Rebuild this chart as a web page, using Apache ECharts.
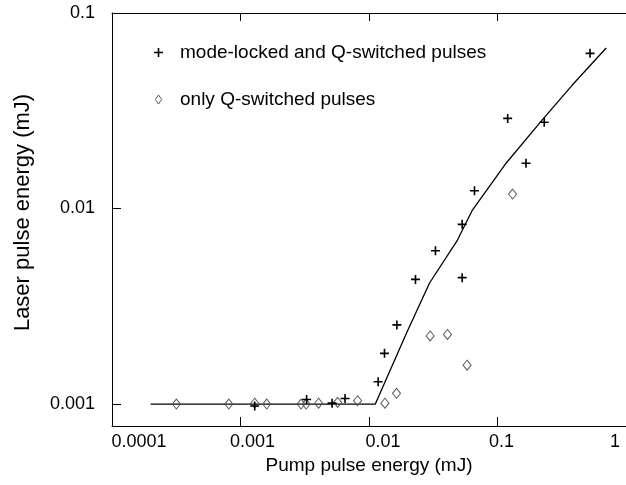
<!DOCTYPE html>
<html>
<head>
<meta charset="utf-8">
<script src="https://cdn.jsdelivr.net/npm/echarts@6/dist/echarts.min.js"></script>
<style>
html,body{margin:0;padding:0;background:#fff;}
#c{width:626px;height:485px;}
</style>
</head>
<body>
<div id="c"></div>
<script>
// Data
var lineX = [0.0002, 0.0112, 0.0196, 0.0296, 0.0488, 0.0638, 0.117, 0.223, 0.382, 0.701];
var lineY = [0.001, 0.001, 0.00231, 0.00416, 0.0069, 0.00982, 0.0171, 0.0284, 0.0428, 0.0662];

var plusX = [0.00129, 0.00327, 0.00516, 0.00651, 0.01178, 0.0132, 0.01648, 0.023, 0.0329, 0.0531, 0.0531, 0.0662, 0.12, 0.1667, 0.231, 0.525];
var plusY = [0.000977, 0.001054, 0.00101, 0.001067, 0.0013, 0.001817, 0.00254, 0.00434, 0.00608, 0.00443, 0.0083, 0.01233, 0.0289, 0.01703, 0.0276, 0.0622];

var diamondX = [0.000317, 0.000811, 0.00129, 0.0016, 0.00296, 0.00324, 0.00405, 0.0057, 0.00815, 0.0133, 0.01637, 0.0299, 0.0408, 0.058, 0.131];
var diamondY = [0.001, 0.001, 0.00101, 0.001, 0.001, 0.001, 0.00101, 0.00102, 0.00104, 0.00101, 0.001135, 0.00223, 0.00227, 0.00158, 0.01186];

var xTickLabels = ['0.0001', '0.001', '0.01', '0.1', '1'];
var yTickLabels = ['0.001', '0.01', '0.1'];
var legendNames = ['mode-locked and Q-switched pulses', 'only Q-switched pulses'];
var xTitle = 'Pump pulse energy (mJ)';
var yTitle = 'Laser pulse energy (mJ)';

function zip(a, b) { return a.map(function (v, i) { return [v, b[i]]; }); }

var FONT = 'Liberation Sans';
var PLUS = 'path://M4.1,0H5.9V4.1H10V5.9H5.9V10H4.1V5.9H0V4.1H4.1Z';
var DIAMOND = 'path://M3.5,0L7,5L3.5,10L0,5Z';

function powIndex(v, base) {
  var l = Math.log10(v);
  var e = Math.round(l);
  if (Math.abs(l - e) > 0.01) return -1;
  return e - base;
}

var chart = echarts.init(document.getElementById('c'), null, {renderer: 'canvas'});
chart.setOption({
  animation: false,
  backgroundColor: '#fff',
  textStyle: {fontFamily: FONT, color: '#000'},
  grid: {left: 112, top: 13, width: 515, height: 413, containLabel: false},
  legend: {
    data: [
      {name: legendNames[0], icon: PLUS, itemStyle: {color: '#000', borderWidth: 0}},
      {name: legendNames[1], icon: DIAMOND, itemStyle: {color: 'rgba(255,255,255,0)', borderColor: '#555', borderWidth: 1}}
    ],
    orient: 'vertical',
    left: 149,
    top: 38,
    itemGap: 28,
    itemWidth: 9,
    itemHeight: 9,
    symbolKeepAspect: true,
    selectedMode: false,
    textStyle: {fontFamily: FONT, fontSize: 19, color: '#000', padding: [0, 0, 0, 12]}
  },
  xAxis: [{
    type: 'log', logBase: 10, min: 0.0001, max: 1,
    name: xTitle, nameLocation: 'middle', nameGap: 30,
    nameTextStyle: {fontFamily: FONT, fontSize: 19, color: '#000'},
    axisLine: {show: true, lineStyle: {color: '#000', width: 1}},
    axisTick: {show: true, inside: true, length: 9, lineStyle: {color: '#000'}},
    minorTick: {show: false},
    splitLine: {show: false},
    axisLabel: {
      show: true, margin: 7, fontFamily: FONT, fontSize: 18, color: '#000',
      showMinLabel: true, showMaxLabel: true,
      formatter: function (v) {
        var i = powIndex(v, -4);
        if (i < 0 || i >= xTickLabels.length) return '';
        return '{t' + i + '|' + xTickLabels[i] + '}';
      },
      rich: {
        t0: {fontFamily: FONT, fontSize: 18, color: '#000', padding: [0, 0, 0, 54]},
        t1: {fontFamily: FONT, fontSize: 18, color: '#000', padding: [0, 0, 0, 24]},
        t2: {fontFamily: FONT, fontSize: 18, color: '#000', padding: [0, 0, 0, 28]},
        t3: {fontFamily: FONT, fontSize: 18, color: '#000', padding: [0, 0, 0, 8]},
        t4: {fontFamily: FONT, fontSize: 18, color: '#000', padding: [0, 22, 0, 0]}
      }
    }
  }, {
    type: 'log', logBase: 10, min: 0.0001, max: 1, position: 'top',
    axisLine: {show: true, lineStyle: {color: '#000', width: 1}},
    axisTick: {show: true, inside: true, length: 8, lineStyle: {color: '#000'}},
    axisLabel: {show: false},
    splitLine: {show: false}
  }],
  yAxis: {
    type: 'log', logBase: 10, min: 0.000772, max: 0.1,
    name: yTitle, nameLocation: 'middle', nameGap: 78,
    nameTextStyle: {fontFamily: FONT, fontSize: 22, color: '#000', padding: [0, 0, 0, 14]},
    axisLine: {show: true, lineStyle: {color: '#000', width: 1}},
    axisTick: {show: true, inside: true, length: 9, lineStyle: {color: '#000'}},
    splitLine: {show: false},
    axisLabel: {
      show: true, margin: 17, fontFamily: FONT, fontSize: 18, color: '#000',
      formatter: function (v) {
        var i = powIndex(v, -3);
        if (i < 0 || i >= yTickLabels.length) return '';
        return yTickLabels[i];
      }
    }
  },
  series: [{
    name: 'fit', type: 'line', xAxisIndex: 0, data: zip(lineX, lineY),
    showSymbol: false, symbol: 'none', smooth: false,
    lineStyle: {color: '#000', width: 1.3}, z: 2
  }, {
    name: legendNames[1], type: 'scatter', xAxisIndex: 0, data: zip(diamondX, diamondY),
    symbol: 'diamond', symbolSize: [8, 10],
    itemStyle: {color: 'rgba(255,255,255,0)', borderColor: '#555', borderWidth: 1, opacity: 1},
    z: 3
  }, {
    name: legendNames[0], type: 'scatter', xAxisIndex: 0, data: zip(plusX, plusY),
    symbol: PLUS, symbolSize: 9, symbolKeepAspect: true,
    itemStyle: {color: '#000', opacity: 1},
    z: 4
  }]
});
</script>
</body>
</html>
